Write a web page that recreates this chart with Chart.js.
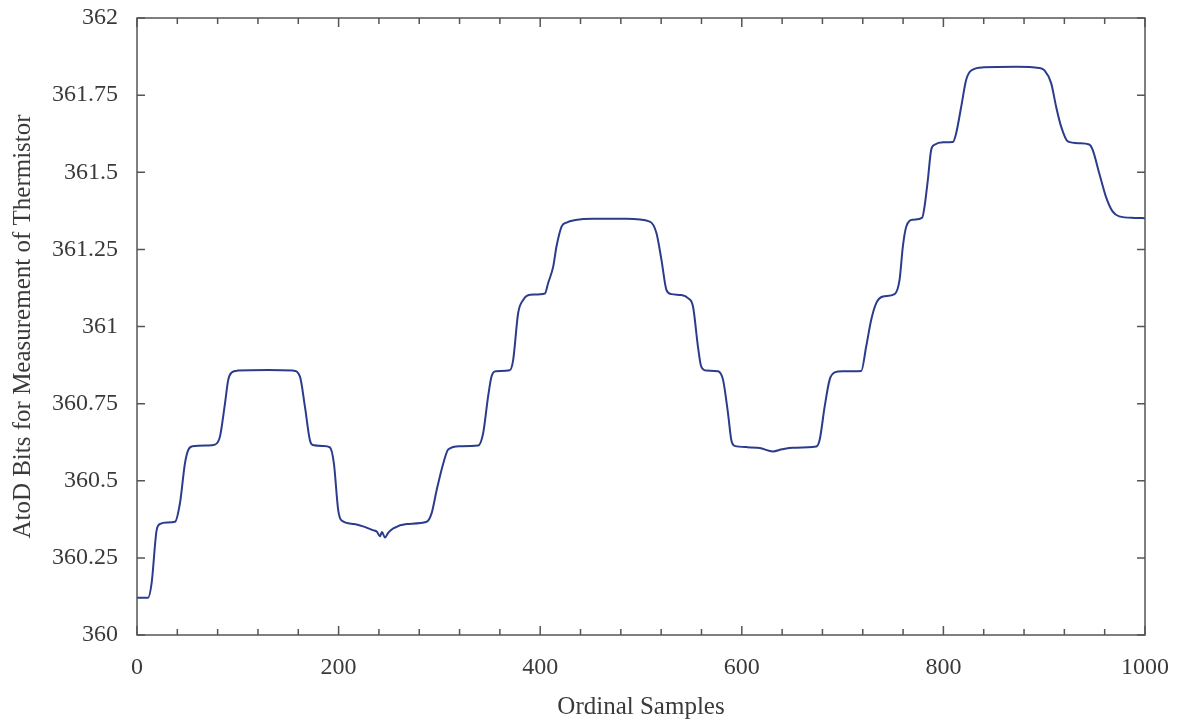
<!DOCTYPE html>
<html>
<head>
<meta charset="utf-8">
<script src="https://cdn.jsdelivr.net/npm/chart.js@4.4.1/dist/chart.umd.min.js"></script>
<style>
    html, body { margin: 0; padding: 0; background: #fff; }
    #wrap { width: 1177px; height: 722px; }
</style>
</head>
<body>
<div id="wrap"><canvas id="thermChart" width="1177" height="722"></canvas></div>
<script>
// Sample positions and AtoD readings
const sampleX = [
    0, 11, 14.5, 19.5, 23, 30, 37.7, 42.6, 47.6, 50.9, 55, 70, 77.3, 82.3, 87.3, 90.5, 93.9,
    100, 130, 155, 161.6, 166.6, 171.5, 174.2, 185, 191.4, 195.3, 199.6, 203, 215, 224.4,
    234, 238, 241, 243, 246, 249, 252, 254.3, 267.6, 287.4, 292.3, 297.3, 303.9, 308.9,
    320, 338.4, 343.4, 348.3, 351.7, 356, 369.8, 373.2, 378.1, 383.1, 390, 404.6, 407.9,
    412.9, 416.2, 421.2, 426.1, 435, 452.5, 485.6, 508.7, 515.3, 520.3, 525.2, 530.2, 540,
    546.6, 551.6, 556.5, 559.8, 565, 576.4, 581.4, 586.3, 589.6, 592.9, 605, 617.7, 630.9,
    640, 650.7, 673.9, 677.2, 682.2, 687.1, 692.1, 700, 718.5, 723.4, 728.4, 733.4, 740,
    751.6, 756.5, 759.8, 763.2, 769.8, 779, 781.3, 784.6, 787.9, 791.2, 800, 809.4, 812.7,
    817.7, 822.6, 827.6, 840, 872.6, 895, 900.3, 906.9, 911.8, 916.8, 923.4, 935, 944.7,
    948, 954.6, 961.2, 967.8, 974.4, 990, 1000
];
const thermistorY = [
    360.121, 360.121, 360.168, 360.34, 360.36, 360.365, 360.367, 360.427, 360.557, 360.60, 360.612, 360.614, 360.617, 360.643, 360.751, 360.827, 360.851,
    360.857, 360.859, 360.857, 360.838, 360.74, 360.632, 360.616, 360.613, 360.608, 360.557, 360.405, 360.371, 360.36, 360.352,
    360.34, 360.335, 360.32, 360.334, 360.316, 360.33, 360.34, 360.346, 360.36, 360.367, 360.395, 360.47, 360.557, 360.602,
    360.612, 360.614, 360.654, 360.773, 360.838, 360.855, 360.858, 360.892, 361.043, 361.086, 361.103, 361.107, 361.141,
    361.194, 361.26, 361.324, 361.337, 361.345, 361.349, 361.349, 361.34, 361.303, 361.216, 361.119, 361.105, 361.102,
    361.092, 361.065, 360.935, 360.87, 360.857, 360.855, 360.827, 360.719, 360.632, 360.613, 360.609, 360.606, 360.595,
    360.602, 360.607, 360.611, 360.632, 360.74, 360.827, 360.851, 360.855, 360.856, 360.935, 361.022, 361.076, 361.097,
    361.105, 361.151, 361.26, 361.324, 361.346, 361.353, 361.389, 361.476, 361.573, 361.589, 361.597, 361.598, 361.627,
    361.713, 361.8, 361.83, 361.84, 361.842, 361.838, 361.83, 361.789, 361.713, 361.648, 361.6, 361.594, 361.59,
    361.573, 361.497, 361.421, 361.373, 361.357, 361.352, 361.351
];
const xMajorTicks = [0, 200, 400, 600, 800, 1000];
const xMinorStep = 40;
const yTicks = [360, 360.25, 360.5, 360.75, 361, 361.25, 361.5, 361.75, 362];

const serif = "'Liberation Serif', 'DejaVu Serif', serif";
const textColor = '#3a3a3a';
const frameColor = '#555555';

// frame + inward ticks like the original plot
const framePlugin = {
    id: 'frame',
    afterDraw(chart) {
        const ctx = chart.ctx;
        const a = chart.chartArea;
        const xs = chart.scales.x, ys = chart.scales.y;
        ctx.save();
        ctx.strokeStyle = frameColor;
        ctx.lineWidth = 1.5;
        ctx.strokeRect(a.left, a.top, a.right - a.left, a.bottom - a.top);
        ctx.beginPath();
        for (let v = 0; v <= 1000; v += xMinorStep) {
            const px = xs.getPixelForValue(v);
            const len = xMajorTicks.includes(v) ? 9 : 6;
            ctx.moveTo(px, a.bottom); ctx.lineTo(px, a.bottom - len);
            ctx.moveTo(px, a.top); ctx.lineTo(px, a.top + len);
        }
        yTicks.forEach(v => {
            const py = ys.getPixelForValue(v);
            ctx.moveTo(a.left, py); ctx.lineTo(a.left + 8, py);
            ctx.moveTo(a.right, py); ctx.lineTo(a.right - 8, py);
        });
        ctx.stroke();
        ctx.restore();
    }
};

const ctx = document.getElementById('thermChart').getContext('2d');
new Chart(ctx, {
    type: 'line',
    data: {
        datasets: [{
            data: sampleX.map((x, i) => ({ x: x, y: thermistorY[i] })),
            borderColor: '#2b3c8c',
            borderWidth: 2,
            pointRadius: 0,
            cubicInterpolationMode: 'monotone',
            fill: false
        }]
    },
    options: {
        responsive: false,
        animation: false,
        layout: { padding: { top: 18, right: 32, left: 0, bottom: 0 } },
        plugins: {
            legend: { display: false },
            tooltip: { enabled: false }
        },
        scales: {
            x: {
                type: 'linear',
                min: 0,
                max: 1000,
                afterFit: s => { s.height = 87; s.paddingLeft = 0; s.paddingRight = 0; },
                afterBuildTicks: s => { s.ticks = xMajorTicks.map(v => ({ value: v })); },
                grid: { display: false, drawTicks: false },
                border: { display: false },
                ticks: {
                    padding: 18,
                    color: textColor,
                    font: { family: serif, size: 24 },
                    maxRotation: 0,
                    callback: v => String(v)
                },
                title: {
                    display: true,
                    text: 'Ordinal Samples',
                    color: textColor,
                    font: { family: serif, size: 25 },
                    padding: { top: 2, bottom: 0 }
                }
            },
            y: {
                type: 'linear',
                min: 360,
                max: 362,
                afterFit: s => { s.width = 137; s.paddingTop = 0; s.paddingBottom = 0; },
                afterBuildTicks: s => { s.ticks = yTicks.map(v => ({ value: v })); },
                grid: { display: false, drawTicks: false },
                border: { display: false },
                ticks: {
                    padding: 19,
                    color: textColor,
                    font: { family: serif, size: 24 },
                    callback: v => String(v)
                },
                title: {
                    display: true,
                    text: 'AtoD Bits for Measurement of Thermistor',
                    color: textColor,
                    font: { family: serif, size: 25 },
                    padding: { top: 8, bottom: 0 }
                }
            }
        }
    },
    plugins: [framePlugin]
});
</script>
</body>
</html>
